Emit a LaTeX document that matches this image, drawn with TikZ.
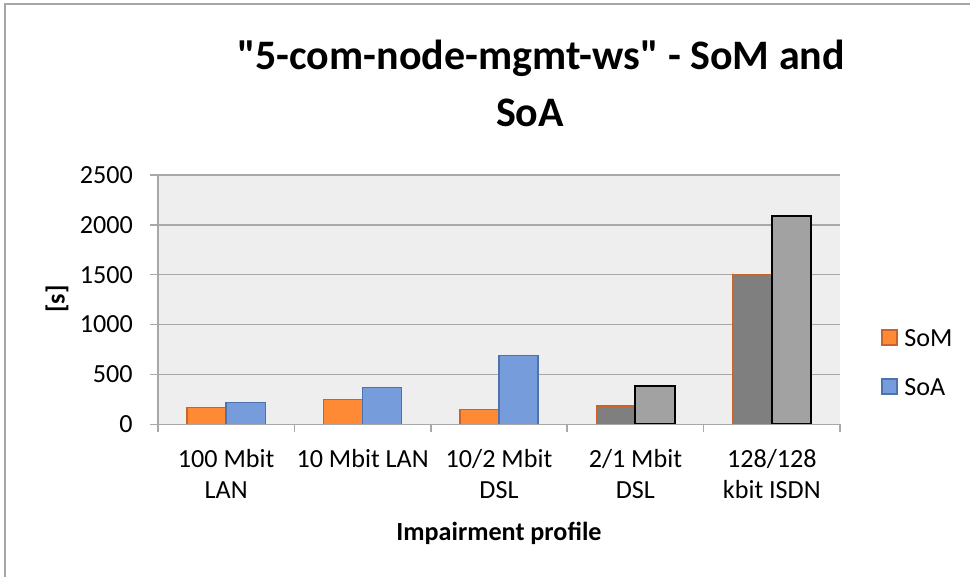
\documentclass[tikz,border=0pt]{standalone}
\usepackage{fontspec}
\setmainfont{Carlito}[Ligatures=TeXOff]
\definecolor{framegray}{HTML}{A6A6A6}
\definecolor{gridgray}{HTML}{A8A8A8}
\definecolor{plotbg}{HTML}{EEEEEE}
\definecolor{somfill}{HTML}{FF8A35}
\definecolor{somline}{HTML}{C8642A}
\definecolor{soafill}{HTML}{779CDB}
\definecolor{soaline}{HTML}{4E72AE}
\definecolor{darkbar}{HTML}{7F7F7F}
\definecolor{lightbar}{HTML}{A2A2A2}
\tikzset{
  gridline/.style={draw=gridgray, line width=1.1pt},
  axisline/.style={draw=gridgray, line width=1.1pt},
  ticklbl/.style={font=\fontsize{19.6}{23.5}\selectfont, inner sep=0pt, anchor=base east},
  catlbl/.style={font=\fontsize{19.6}{23.5}\selectfont, inner sep=0pt, anchor=base},
  titlelbl/.style={font=\fontsize{31.5}{38}\selectfont\bfseries, inner sep=0pt, anchor=base},
  axtitle/.style={font=\fontsize{19.6}{23.5}\selectfont\bfseries, inner sep=0pt},
  sombar/.style={fill=somfill, draw=somline, line width=1.1pt},
  soabar/.style={fill=soafill, draw=soaline, line width=1.1pt},
  dkbar/.style={fill=darkbar, draw=somline, line width=1.1pt},
  ltbar/.style={fill=lightbar, draw=black, line width=1.5pt},
}
\begin{document}
\begin{tikzpicture}[x=0.75pt,y=-0.75pt]
\useasboundingbox (0,0) rectangle (970,577);
% outer frame: only its left and top edges fall inside the page
\draw[framegray, line width=1.5pt] (5,577) -- (5,4) -- (970,4);

% title
\node[titlelbl] (title1) at (541,70) {"5-com-node-mgmt-ws" - SoM and};
\node[titlelbl] (title2) at (530,127) {SoA};

% plot area and value grid
\fill[plotbg] (158,175) rectangle (840,424.3);
\foreach \v in {500,1000,1500,2000,2500}
  \draw[gridline] (150,{424.3-\v*0.09972}) -- (840,{424.3-\v*0.09972});
\foreach \v in {0,500,1000,1500,2000,2500}
  \node[ticklbl] (ytick\v) at (133,{424.3-\v*0.09972+8.3}) {\v};

% bars: category index / SoM / SoA / styles
\foreach \i/\a/\b/\sa/\sb in {0/170/220/sombar/soabar,
                              1/250/367/sombar/soabar,
                              2/150/688/sombar/soabar,
                              3/183/387/dkbar/ltbar,
                              4/1504/2092/dkbar/ltbar}{
  \pgfmathsetmacro{\xs}{158+\i*136.4+29.1}
  \draw[\sa] (\xs,424.3) rectangle ({\xs+39.1},{424.3-\a*0.09972});
  \draw[\sb] ({\xs+39.1},424.3) rectangle ({\xs+78.2},{424.3-\b*0.09972});
}

% axes
\draw[axisline] (150,424.3) -- (840,424.3);
\draw[axisline] (158,175) -- (158,424.3);
\foreach \i in {0,...,5}
  \draw[axisline] ({158+\i*136.4},424.3) -- ({158+\i*136.4},432);

% category labels
\node[catlbl] (c1a) at (226.2,467) {100 Mbit};
\node[catlbl] (c1b) at (226.2,498) {LAN};
\node[catlbl] (c2a) at (362.6,467) {10 Mbit LAN};
\node[catlbl] (c3a) at (499,467) {10/2 Mbit};
\node[catlbl] (c3b) at (499,498) {DSL};
\node[catlbl] (c4a) at (635.4,467) {2/1 Mbit};
\node[catlbl] (c4b) at (635.4,498) {DSL};
\node[catlbl] (c5a) at (771.8,467) {128/128};
\node[catlbl] (c5b) at (771.8,498) {kbit ISDN};

% axis titles
\node[axtitle, anchor=base] (xtitle) at (499,540) {Impairment profile};
\node[axtitle, rotate=90] (ytitle) at (57,299) {[s]};

% legend
\draw[sombar] (882,330) rectangle (897,345);
\node[catlbl, anchor=base west] (legsom) at (904,346) {SoM};
\draw[soabar] (882,379) rectangle (897,394);
\node[catlbl, anchor=base west] (legsoa) at (904,395) {SoA};
\end{tikzpicture}
\end{document}
